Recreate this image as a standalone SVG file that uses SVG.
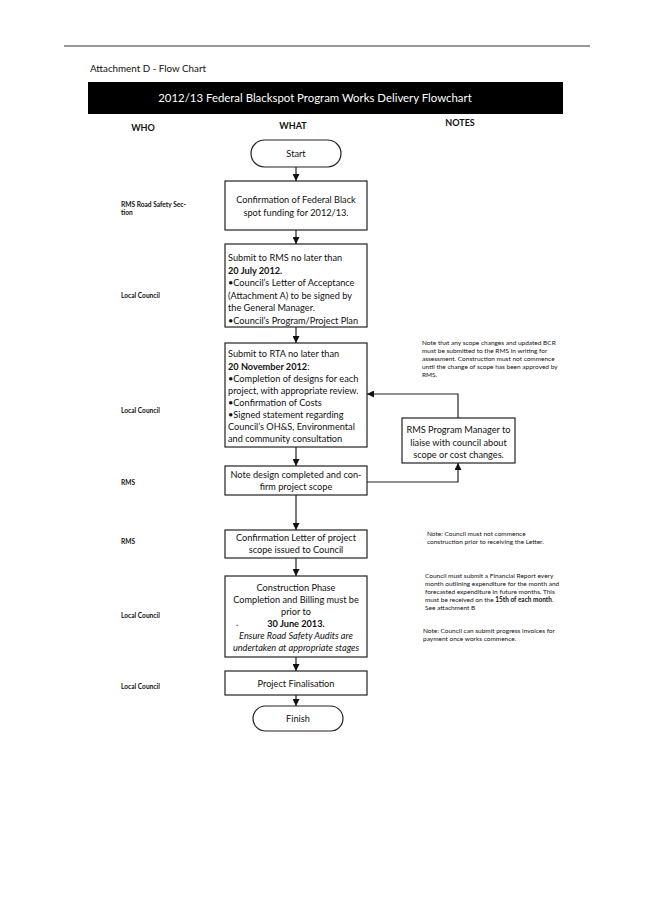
<svg xmlns="http://www.w3.org/2000/svg" width="649" height="914" viewBox="0 0 649 914">
<defs>
<marker id="ah" viewBox="0 0 10 10" refX="10" refY="5" markerWidth="7" markerHeight="7" markerUnits="userSpaceOnUse" orient="auto">
<path d="M0,0 L10,5 L0,10 z" fill="#111"/>
</marker>
</defs>
<style>
.bx{fill:#fff;stroke:#222;stroke-width:1.2}
.t{font-family:Lato,"Open Sans","Liberation Sans",sans-serif;font-size:9.2px;fill:#111}
.c{text-anchor:middle}
.b{font-weight:bold}
.who{font-family:Lato,"Liberation Sans",sans-serif;font-size:6.6px;font-weight:bold;fill:#111}
.hd{font-family:Lato,"Liberation Sans",sans-serif;font-size:9px;font-weight:bold;fill:#111;text-anchor:middle}
.n{font-family:Lato,"Liberation Sans",sans-serif;font-size:6.5px;fill:#111}
.ln{fill:none;stroke:#222;stroke-width:1.2}
</style>
<rect width="649" height="914" fill="#fff"/>
<line x1="64" y1="46" x2="590" y2="46" stroke="#333" stroke-width="1"/>
<text x="90" y="72" class="t" style="font-size:9.8px">Attachment D - Flow Chart</text>
<rect x="88" y="82" width="475" height="32" fill="#000"/>
<text x="315" y="102" class="t c" style="font-size:11.4px;fill:#fff">2012/13 Federal Blackspot Program Works Delivery Flowchart</text>

<g id="headers">
<text x="143" y="131" class="hd">WHO</text>
<text x="293" y="129" class="hd">WHAT</text>
<text x="460" y="126" class="hd">NOTES</text>
</g>

<g id="who">
<text x="121" y="207" class="who">RMS Road Safety Sec-</text>
<text x="121" y="215" class="who">tion</text>
<text x="121" y="298" class="who">Local Council</text>
<text x="121" y="413" class="who">Local Council</text>
<text x="121" y="485" class="who">RMS</text>
<text x="121" y="544" class="who">RMS</text>
<text x="121" y="618" class="who">Local Council</text>
<text x="121" y="689" class="who">Local Council</text>
</g>

<g id="connectors">
<line x1="296" y1="167" x2="296" y2="181" class="ln" marker-end="url(#ah)"/>
<line x1="296" y1="230" x2="296" y2="244" class="ln" marker-end="url(#ah)"/>
<line x1="296" y1="327" x2="296" y2="343" class="ln" marker-end="url(#ah)"/>
<line x1="296" y1="447" x2="296" y2="466" class="ln" marker-end="url(#ah)"/>
<line x1="296" y1="495" x2="296" y2="530" class="ln" marker-end="url(#ah)"/>
<line x1="296" y1="558" x2="296" y2="576" class="ln" marker-end="url(#ah)"/>
<line x1="296" y1="657" x2="296" y2="671" class="ln" marker-end="url(#ah)"/>
<line x1="296" y1="695" x2="296" y2="706" class="ln" marker-end="url(#ah)"/>
<polyline points="458,418 458,394 367,394" class="ln" marker-end="url(#ah)"/>
<polyline points="367,482 458,482 458,463" class="ln" marker-end="url(#ah)"/>
</g>

<g id="start">
<rect x="251" y="140" width="90" height="27" rx="13.5" class="bx"/>
<text x="296" y="157" class="t c">Start</text>
</g>

<g id="n1">
<rect x="225" y="181" width="142" height="49" class="bx"/>
<text x="296" y="203" class="t c">Confirmation of Federal Black</text>
<text x="296" y="216" class="t c">spot funding for 2012/13.</text>
</g>

<g id="n2">
<rect x="225" y="244" width="142" height="83" class="bx"/>
<text x="228" y="261" class="t">Submit to RMS no later than</text>
<text x="228" y="273.5" class="t b">20 July 2012.</text>
<text x="228" y="286" class="t">•Council’s Letter of Acceptance</text>
<text x="228" y="298.5" class="t">(Attachment A) to be signed by</text>
<text x="228" y="311" class="t">the General Manager.</text>
<text x="228" y="323.5" class="t">•Council’s Program/Project Plan</text>
</g>

<g id="n3">
<rect x="225" y="343" width="142" height="104" class="bx"/>
<text x="228" y="357" class="t">Submit to RTA no later than</text>
<text x="228" y="369.5" class="t b">20 November 2012<tspan style="font-weight:normal">:</tspan></text>
<text x="228" y="382" class="t">•Completion of designs for each</text>
<text x="228" y="394" class="t">project, with appropriate review.</text>
<text x="228" y="406" class="t">•Confirmation of Costs</text>
<text x="228" y="418" class="t">•Signed statement regarding</text>
<text x="228" y="430" class="t">Council’s OH&amp;S, Environmental</text>
<text x="228" y="442" class="t">and community consultation</text>
</g>

<g id="n4">
<rect x="225" y="466" width="142" height="29" class="bx"/>
<text x="296" y="477.5" class="t c">Note design completed and con-</text>
<text x="296" y="489.5" class="t c">firm project scope</text>
</g>

<g id="n5">
<rect x="225" y="530" width="142" height="28" class="bx"/>
<text x="296" y="541" class="t c">Confirmation Letter of project</text>
<text x="296" y="553" class="t c">scope issued to Council</text>
</g>

<g id="n6">
<rect x="225" y="576" width="142" height="81" class="bx"/>
<text x="296" y="591" class="t c">Construction Phase</text>
<text x="296" y="603" class="t c">Completion and Billing must be</text>
<text x="296" y="615" class="t c">prior to</text>
<text x="236" y="626" class="t">.</text>
<text x="296" y="627" class="t c b">30 June 2013.</text>
<text x="296" y="639" class="t c" font-style="italic">Ensure Road Safety Audits are</text>
<text x="296" y="651" class="t c" font-style="italic">undertaken at appropriate stages</text>
</g>

<g id="n7">
<rect x="225" y="671" width="142" height="24" class="bx"/>
<text x="296" y="686.5" class="t c">Project Finalisation</text>
</g>

<g id="finish">
<rect x="253" y="706" width="90" height="25" rx="12.5" class="bx"/>
<text x="298" y="722" class="t c">Finish</text>
</g>

<g id="side">
<rect x="402" y="418" width="113" height="45" class="bx"/>
<text x="458.5" y="433" class="t c">RMS Program Manager to</text>
<text x="458.5" y="445.5" class="t c">liaise with council about</text>
<text x="458.5" y="458" class="t c">scope or cost changes.</text>
</g>

<g id="notes">
<text x="422" y="345" class="n">Note that  any scope changes and updated BCR</text>
<text x="422" y="353" class="n">must be submitted to the RMS in writing for</text>
<text x="422" y="361" class="n">assessment. Construction must not commence</text>
<text x="422" y="369" class="n">until the change of scope has been approved by</text>
<text x="422" y="377" class="n">RMS.</text>
<text x="427" y="536" class="n">Note: Council must not commence</text>
<text x="427" y="544" class="n">construction prior to receiving the Letter.</text>
<text x="425" y="578" class="n">Council must submit a Financial Report every</text>
<text x="425" y="586" class="n">month outlining expenditure for the month and</text>
<text x="425" y="594" class="n">forecasted expenditure in future months. This</text>
<text x="425" y="602" class="n">must be received on the <tspan font-weight="bold">15th of each month</tspan>.</text>
<text x="425" y="610" class="n">See attachment B</text>
<text x="423" y="633" class="n">Note: Council can submit progress invoices for</text>
<text x="423" y="641" class="n">payment once works commence.</text>
</g>
</svg>
